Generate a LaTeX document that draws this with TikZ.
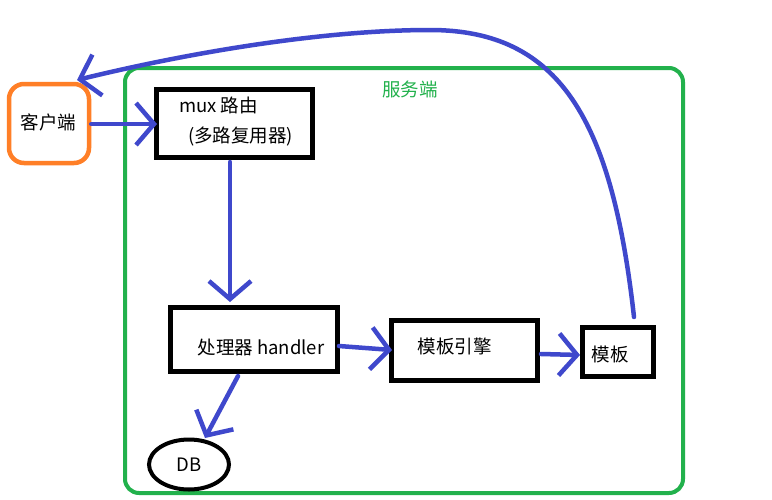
\documentclass[tikz,border=0pt]{standalone}
\usepackage{fontspec}
\setmainfont{Noto Sans CJK SC}
\usetikzlibrary{arrows.meta,shapes.geometric}
\definecolor{cblue}{HTML}{3F48CC}
\definecolor{cgreen}{HTML}{22B14C}
\definecolor{corange}{HTML}{FF7F27}
\tikzset{
  boxnode/.style={draw=black, line width=4.5pt, inner sep=0pt},
  txt/.style={inner sep=0pt, font=\fontsize{18.5}{22}\selectfont},
  arr/.style={draw=cblue, line width=4.5pt, line cap=round,
    -{Straight Barb[length=18pt, width=42pt]}},
}
\begin{document}
\begin{tikzpicture}[x=1pt, y=-1pt]
\path[use as bounding box, fill=white] (0,0) rectangle (772,499);
% server frame
\draw[cgreen, line width=4pt, rounded corners=14pt] (125,68) rectangle (683,493);
\node[txt, text=cgreen] (srv) at (410,89) {服务端};
% client
\node[draw=corange, line width=4.5pt, rounded corners=15pt, minimum width=80pt, minimum height=79pt, inner sep=0pt] (client) at (49,123.5) {};
\node[txt] (clienttxt) at (48.5,122) {客户端};
% mux
\node[boxnode, minimum width=156pt, minimum height=68pt] (mux) at (234.5,123.5) {};
\node[txt, anchor=west] (muxt1) at (179,105) {mux 路由};
\node[txt, anchor=west] (muxt2) at (188,137) {(多路复用器)};
% handler
\node[boxnode, minimum width=167pt, minimum height=64pt] (handler) at (254,339.5) {};
\node[txt] (handlert) at (261,347) {处理器 handler};
% engine
\node[boxnode, minimum width=146pt, minimum height=60pt] (engine) at (464.5,350.5) {};
\node[txt] (enginet) at (454.5,346) {模板引擎};
% template
\node[boxnode, minimum width=71pt, minimum height=49pt] (tpl) at (618,352) {};
\node[txt] (tplt) at (610,354) {模板};
% DB
\node[draw=black, line width=4pt, ellipse, minimum width=80pt, minimum height=50pt, inner sep=0pt] (db) at (189,464.5) {};
\node[txt] (dbt) at (189,465) {DB};
% connectors
\coordinate (muxin) at (157,124);
\coordinate (hin) at (230,302);
\coordinate (mout) at (230,162);
\coordinate (hout) at (339,346);
\coordinate (ein) at (392,350);
\coordinate (eout) at (541,354);
\coordinate (tin) at (580,355);
\coordinate (hdb) at (238,376);
\coordinate (dbin) at (205,438);
\coordinate (tout) at (634,317);
\coordinate (cin) at (77,80);
\draw[arr] (client.east |- muxin) -- (muxin);
\draw[arr] (mout) -- (hin);
\draw[arr] (hout) -- (ein);
\draw[arr] (eout) -- (tin);
\draw[arr] (hdb) -- (dbin);
\draw[arr] (tout) .. controls (612,120) and (560,30) .. (430,30)
  .. controls (330,30) and (200,50) .. (cin);
\end{tikzpicture}
\end{document}
